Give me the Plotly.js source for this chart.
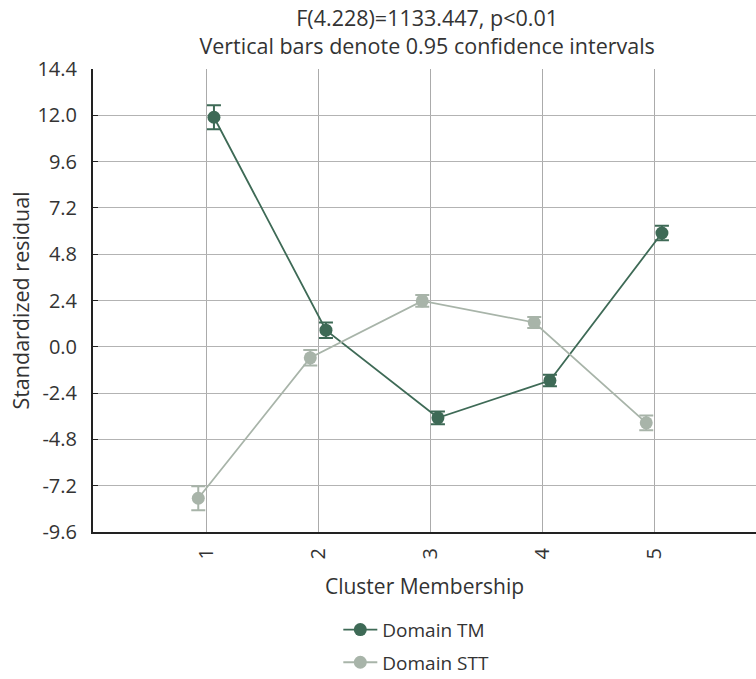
<!DOCTYPE html>
<html>
<head>
<meta charset="utf-8">
<script src="https://cdn.plot.ly/plotly-3.0.1.min.js"></script>
<style>html,body{margin:0;padding:0;background:#fff;}#chart{width:756px;height:679px;}</style>
</head>
<body>
<div id="chart"></div>
<script>
const clusters = [1, 2, 3, 4, 5];
const tickLabels = ["1", "2", "3", "4", "5"];
const yTickVals = [-9.6, -7.2, -4.8, -2.4, 0, 2.4, 4.8, 7.2, 9.6, 12.0, 14.4];
const yTickLabels = ["-9.6", "-7.2", "-4.8", "-2.4", "0.0", "2.4", "4.8", "7.2", "9.6", "12.0", "14.4"];
const tmMeans = [11.9, 0.86, -3.68, -1.75, 5.9];
const tmErr = [0.62, 0.4, 0.33, 0.3, 0.38];
const sttMeans = [-7.85, -0.57, 2.38, 1.26, -3.94];
const sttErr = [0.62, 0.4, 0.3, 0.28, 0.38];
const seriesNames = ["Domain TM", "Domain STT"];

const offset = 0.07;
const tmColor = "#3e6a56";
const sttColor = "#a8b4a9";

const traces = [
  {
    x: clusters.map(c => c + offset), y: tmMeans, name: seriesNames[0], legendgroup: "tm",
    type: "scatter", mode: "lines+markers",
    line: {color: tmColor, width: 1.8},
    marker: {color: tmColor, size: 13},
    error_y: {type: "data", array: tmErr, visible: true, color: tmColor, thickness: 2, width: 7}
  },
  {
    x: clusters.map(c => c - offset), y: sttMeans, name: seriesNames[1], legendgroup: "stt",
    type: "scatter", mode: "lines+markers",
    line: {color: sttColor, width: 1.8},
    marker: {color: sttColor, size: 13},
    error_y: {type: "data", array: sttErr, visible: true, color: sttColor, thickness: 2, width: 7}
  }
];

const font = {family: "'Open Sans', 'Noto Sans', sans-serif", color: "#333"};

const layout = {
  width: 756, height: 679,
  margin: {l: 93, r: 0, t: 69, b: 147, autoexpand: false},
  paper_bgcolor: "#fff", plot_bgcolor: "#fff",
  font: Object.assign({size: 20}, font),
  title: {
    text: "F(4.228)=1133.447, p<0.01<br>Vertical bars denote 0.95 confidence intervals",
    font: Object.assign({size: 21.5}, font),
    x: 0.565, xanchor: "center", yref: "container", y: 0.962, yanchor: "middle"
  },
  xaxis: {
    range: [-0.01, 5.91],
    tickvals: clusters, ticktext: tickLabels, tickangle: -90,
    showgrid: true, gridcolor: "#ababab", gridwidth: 1,
    zeroline: false, showline: true, linecolor: "#222", linewidth: 2,
    ticks: "", tickfont: {size: 20}, ticklabelstandoff: 6,
    title: {text: "Cluster Membership", font: {size: 21}, standoff: 21}
  },
  yaxis: {
    range: [-9.6, 14.4], tickvals: yTickVals, ticktext: yTickLabels,
    showgrid: true, gridcolor: "#b3b3b3", gridwidth: 1,
    zeroline: false, showline: true, linecolor: "#222", linewidth: 2,
    ticks: "inside", ticklen: 5, tickcolor: "#222", tickwidth: 1,
    tickfont: {size: 20}, ticklabelstandoff: 10,
    title: {text: "Standardized residual", font: {size: 21.5}, standoff: 2}
  },
  showlegend: true,
  legend: {
    x: 0.37, xanchor: "left", y: -0.17, yanchor: "top",
    orientation: "v", font: {size: 19}, bgcolor: "rgba(0,0,0,0)",
    itemwidth: 34, tracegroupgap: 5
  }
};

Plotly.newPlot("chart", traces, layout, {displayModeBar: false, staticPlot: true});
</script>
</body>
</html>
